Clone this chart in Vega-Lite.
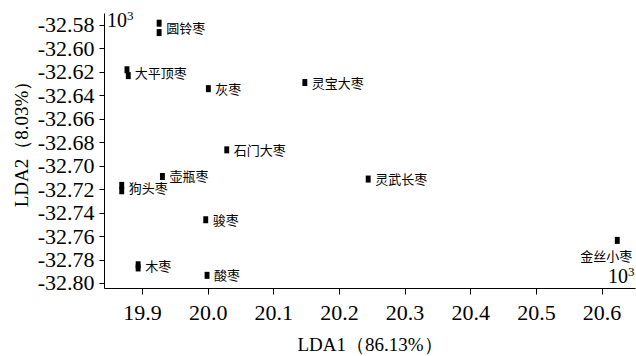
{
  "$schema": "https://vega.github.io/schema/vega-lite/v6.json",
  "width": 531,
  "height": 275,
  "autosize": {"type": "none"},
  "padding": {"left": 104, "top": 13, "right": 1, "bottom": 68},
  "background": "white",
  "config": {
    "view": {"stroke": null},
    "locale": {"number": {"decimal": ".", "thousands": ",", "grouping": [3], "currency": ["", ""], "minus": "-"}},
    "axis": {
      "labelFont": "Liberation Serif",
      "titleFont": "Liberation Serif",
      "labelColor": "black",
      "titleColor": "black",
      "domainColor": "black",
      "tickColor": "black",
      "titleFontWeight": "normal",
      "grid": false
    }
  },
  "datasets": {
    "pts": [
      {"name": "圆铃枣", "LDA1": 19.926, "LDA2": -32.5785},
      {"name": "圆铃枣", "LDA1": 19.926, "LDA2": -32.5865},
      {"name": "大平顶枣", "LDA1": 19.877, "LDA2": -32.6182},
      {"name": "大平顶枣", "LDA1": 19.879, "LDA2": -32.6232},
      {"name": "灰枣", "LDA1": 20.001, "LDA2": -32.6343},
      {"name": "灵宝大枣", "LDA1": 20.148, "LDA2": -32.6291},
      {"name": "石门大枣", "LDA1": 20.029, "LDA2": -32.6865},
      {"name": "壶瓶枣", "LDA1": 19.931, "LDA2": -32.7092},
      {"name": "狗头枣", "LDA1": 19.869, "LDA2": -32.7168},
      {"name": "狗头枣", "LDA1": 19.869, "LDA2": -32.7214},
      {"name": "灵武长枣", "LDA1": 20.2445, "LDA2": -32.7114},
      {"name": "骏枣", "LDA1": 19.997, "LDA2": -32.7461},
      {"name": "木枣", "LDA1": 19.894, "LDA2": -32.7845},
      {"name": "木枣", "LDA1": 19.894, "LDA2": -32.7872},
      {"name": "酸枣", "LDA1": 19.999, "LDA2": -32.7935},
      {"name": "金丝小枣", "LDA1": 20.624, "LDA2": -32.7637}
    ],
    "lbl": [
      {"name": "圆铃枣", "LDA1": 19.926, "LDA2": -32.5823},
      {"name": "大平顶枣", "LDA1": 19.878, "LDA2": -32.6206},
      {"name": "灰枣", "LDA1": 20.001, "LDA2": -32.6343},
      {"name": "灵宝大枣", "LDA1": 20.148, "LDA2": -32.6291},
      {"name": "石门大枣", "LDA1": 20.029, "LDA2": -32.6865},
      {"name": "壶瓶枣", "LDA1": 19.931, "LDA2": -32.7092},
      {"name": "狗头枣", "LDA1": 19.869, "LDA2": -32.7191},
      {"name": "灵武长枣", "LDA1": 20.2445, "LDA2": -32.7114},
      {"name": "骏枣", "LDA1": 19.997, "LDA2": -32.7461},
      {"name": "木枣", "LDA1": 19.894, "LDA2": -32.7859},
      {"name": "酸枣", "LDA1": 19.999, "LDA2": -32.7935},
      {"name": "金丝小枣", "LDA1": 20.624, "LDA2": -32.7637}
    ],
    "exp": [
      {"base": "10", "power": "3", "LDA1": 19.8466, "LDA2": -32.5814},
      {"base": "10", "power": "3", "LDA1": 20.610, "LDA2": -32.7998}
    ]
  },
  "encoding": {
    "x": {
      "field": "LDA1", "type": "quantitative",
      "scale": {"domain": [19.842, 20.651], "nice": false, "zero": false},
      "axis": {
        "title": "LDA1（86.13%）",
        "values": [19.9, 20.0, 20.1, 20.2, 20.3, 20.4, 20.5, 20.6],
        "format": ".1f",
        "labelFont": "Liberation Serif",
        "titleFont": "Liberation Serif",
        "labelFontSize": 22,
        "titleFontSize": 19,
        "labelOverlap": false,
        "tickSize": 6,
        "labelPadding": 8,
        "titlePadding": 12
      }
    },
    "y": {
      "field": "LDA2", "type": "quantitative",
      "scale": {"domain": [-32.8043, -32.5698], "nice": false, "zero": false},
      "axis": {
        "title": "LDA2（8.03%）",
        "values": [-32.8, -32.78, -32.76, -32.74, -32.72, -32.7, -32.68, -32.66, -32.64, -32.62, -32.6, -32.58],
        "format": ".2f",
        "labelFont": "Liberation Serif",
        "titleFont": "Liberation Serif",
        "labelFontSize": 22,
        "titleFontSize": 19,
        "labelOverlap": false,
        "tickSize": 5,
        "labelPadding": 5,
        "titlePadding": 6,
        "titleY": 126
      }
    }
  },
  "layer": [
    {
      "data": {"name": "pts"},
      "mark": {"type": "point", "shape": "M-0.7,-1H0.7V1H-0.7Z", "filled": true, "color": "black", "opacity": 1, "size": 49}
    },
    {
      "data": {"name": "lbl"},
      "transform": [{"filter": "datum.name != '金丝小枣'"}],
      "mark": {"type": "text", "align": "left", "baseline": "middle", "dx": 7, "dy": 1, "font": "Noto Sans CJK SC", "fontSize": 13, "color": "black"},
      "encoding": {"text": {"field": "name"}}
    },
    {
      "data": {"name": "lbl"},
      "transform": [{"filter": "datum.name == '金丝小枣'"}],
      "mark": {"type": "text", "align": "center", "baseline": "middle", "dx": -11, "dy": 17, "font": "Noto Sans CJK SC", "fontSize": 13, "color": "black"},
      "encoding": {"text": {"field": "name"}}
    },
    {
      "data": {"name": "exp"},
      "mark": {"type": "text", "align": "left", "baseline": "alphabetic", "font": "Liberation Serif", "fontSize": 20, "color": "black"},
      "encoding": {"text": {"field": "base"}}
    },
    {
      "data": {"name": "exp"},
      "mark": {"type": "text", "align": "left", "baseline": "alphabetic", "dx": 20, "dy": -7, "font": "Liberation Serif", "fontSize": 13, "color": "black"},
      "encoding": {"text": {"field": "power"}}
    }
  ]
}
